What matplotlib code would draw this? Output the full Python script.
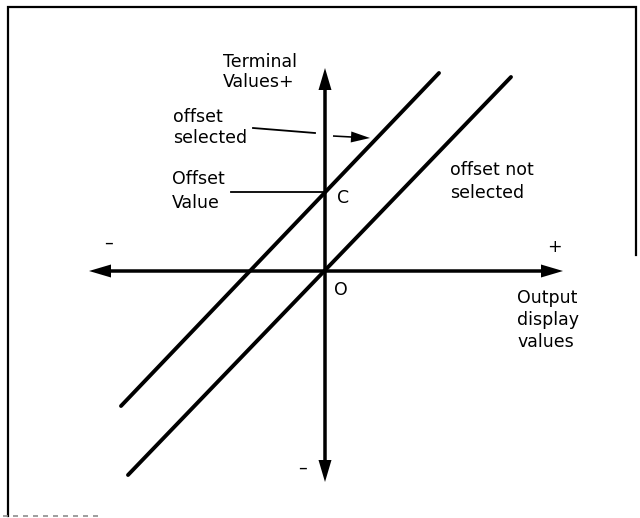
import matplotlib
matplotlib.use("Agg")
import matplotlib.pyplot as plt

# data: output display value (x) vs terminal value (y), origin at O
offset_c = 78
sel_x = [-204, 114]          # offset selected
sel_y = [-135, 198]
nosel_x = [-197, 186]        # offset not selected
nosel_y = [-204, 194]
axis_x = [-236, 238]         # horizontal axis arrow extent
axis_y = [-211, 203]         # vertical axis arrow extent


def draw_arrow(ax, x0, y0, x1, y1, lw=3.5, hw=13, hl=22):
    ax.arrow(x0, y0, x1 - x0, y1 - y0, width=lw, head_width=hw,
             head_length=hl, length_includes_head=True,
             color="black", linewidth=0)


def make_plot():
    fig = plt.figure(figsize=(6.4, 5.18), dpi=100)
    ax = fig.add_axes([0, 0, 1, 1])
    ax.set_xlim(-325, 315)
    ax.set_ylim(-247, 271)
    ax.axis("off")

    # frame
    ax.plot([-317, -317, 311, 311], [-245, 264, 264, 16], color="black", lw=1.6,
            solid_joinstyle="miter")
    ax.plot([-322, -225], [-245, -245], color="0.55", lw=1.2, ls=(0, (3, 3)))

    # axes with arrows at both ends
    draw_arrow(ax, 0, 0, axis_x[0], 0)
    draw_arrow(ax, 0, 0, axis_x[1], 0)
    draw_arrow(ax, 0, 0, 0, axis_y[1])
    draw_arrow(ax, 0, 0, 0, axis_y[0])

    # the two transfer lines
    ax.plot(sel_x, sel_y, color="black", lw=2.8, solid_capstyle="round")
    ax.plot(nosel_x, nosel_y, color="black", lw=2.8, solid_capstyle="round")

    # leader lines
    ax.plot([-72, -10], [143, 138], color="black", lw=1.3)
    ax.plot([-94, -2], [offset_c + 1, offset_c + 1], color="black", lw=1.3)
    draw_arrow(ax, 8, 135, 45, 133, lw=1.6, hw=11, hl=19)

    fs = 12.5
    kw = dict(fontsize=fs, color="black", va="center", ha="left")
    ax.text(-102, 209, "Terminal", **kw)
    ax.text(-102, 189, "Values+", **kw)
    ax.text(-152, 154, "offset", **kw)
    ax.text(-152, 133, "selected", **kw)
    ax.text(-153, 92, "Offset", **kw)
    ax.text(-153, 68, "Value", **kw)
    ax.text(12, 73, "C", **kw)
    ax.text(125, 101, "offset not", **kw)
    ax.text(125, 78, "selected", **kw)
    ax.text(-221, 28, "\u2013", **kw)
    ax.text(222, 24, "+", **kw)
    ax.text(9, -19, "O", **kw)
    ax.text(192, -27, "Output", **kw)
    ax.text(192, -49, "display", **kw)
    ax.text(192, -71, "values", **kw)
    ax.text(-27, -197, "\u2013", **kw)

    fig.savefig("out.png", dpi=100, facecolor="white")
    plt.close(fig)


if __name__ == "__main__":
    make_plot()
